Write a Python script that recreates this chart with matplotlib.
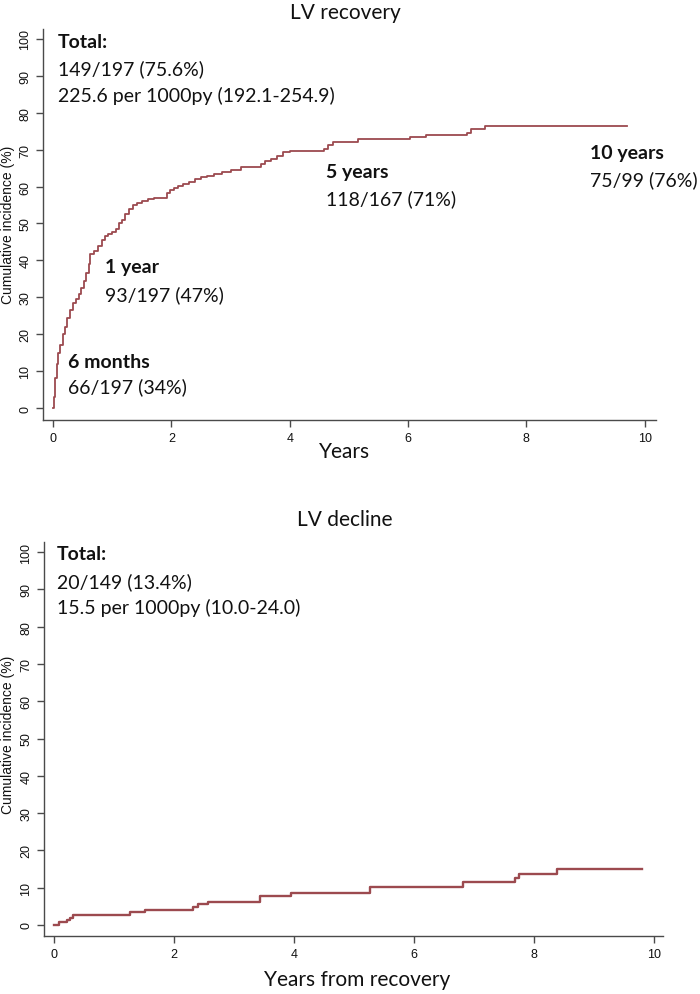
import matplotlib
matplotlib.use("Agg")
import matplotlib.pyplot as plt
import numpy as np

# ---- data ----
rec_time = [0, 0.01, 0.03, 0.06, 0.09, 0.12, 0.16, 0.20, 0.24, 0.28, 0.33, 0.38, 0.43,
            0.48, 0.52, 0.56, 0.60, 0.63, 0.70, 0.76, 0.82, 0.87, 0.93, 1.00, 1.06, 1.12,
            1.17, 1.22, 1.28, 1.35, 1.42, 1.50, 1.60, 1.70, 1.93, 1.98, 2.05, 2.12, 2.20,
            2.30, 2.40, 2.50, 2.60, 2.72, 2.85, 3.00, 3.17, 3.52, 3.58, 3.68, 3.78, 3.88,
            4.00, 4.58, 4.65, 4.73, 5.16, 6.03, 6.31, 6.99, 7.07, 7.30, 9.70]
rec_cum = [0, 3, 8, 12, 15, 17, 20, 22, 24.5, 26.5, 28.5, 29.5, 31,
           32.5, 34.5, 36.5, 39, 41.7, 42.5, 44, 45.5, 46.7, 47.2, 47.7, 48.5, 50,
           51, 52.5, 54, 55, 55.5, 56, 56.5, 57, 58.2, 59, 59.6, 60.2, 60.7,
           61.2, 62, 62.5, 63, 63.5, 64, 64.5, 65.3, 66.2, 67, 67.6, 68.3, 69.3,
           69.7, 70.3, 71.2, 72.2, 72.8, 73.4, 74.1, 74.6, 75.6, 76.5, 76.5]

dec_time = [0, 0.075, 0.21, 0.26, 0.32, 1.26, 1.51, 2.32, 2.39, 2.57, 3.43, 3.95,
            5.27, 6.81, 7.68, 7.75, 8.38, 9.80]
dec_cum = [0, 0.7, 1.35, 2.0, 2.7, 3.4, 4.1, 4.8, 5.5, 6.2, 7.8, 8.6,
           10.3, 11.4, 12.6, 13.8, 15.0, 15.0]

x_ticks = [0, 2, 4, 6, 8, 10]
y_ticks = [0, 10, 20, 30, 40, 50, 60, 70, 80, 90, 100]

titles = ["LV recovery", "LV decline"]
xlabels = ["Years", "Years from recovery"]
ylabel = "Cumulative incidence (%)"

LINE = "#9c4a4f"
AX = "#4a4a4a"
W, H = 700, 995

fig = plt.figure(figsize=(7, 9.95), dpi=100)

def px(x, y):
    return x / W, 1 - y / H

def make_ax(left, top, right, bottom):
    l, t = px(left, top)
    r, b = px(right, bottom)
    ax = fig.add_axes([l, b, r - l, t - b])
    for s in ["top", "right"]:
        ax.spines[s].set_visible(False)
    for s in ["left", "bottom"]:
        ax.spines[s].set_color(AX)
        ax.spines[s].set_linewidth(1.0)
    ax.set_xticks(x_ticks)
    ax.set_yticks(y_ticks)
    ax.tick_params(axis="both", direction="out", length=5, width=1.0, color=AX,
                   labelsize=9, labelcolor="#111111")
    for lab in ax.get_yticklabels():
        lab.set_rotation(90)
        lab.set_va("center")
        lab.set_family("Liberation Sans")
    for lab in ax.get_xticklabels():
        lab.set_family("Liberation Sans")
    return ax

ax1 = make_ax(43, 30, 656, 421)
ax1.plot(rec_time, rec_cum, drawstyle="steps-post", color=LINE, lw=1.3)
ax1.set_xlim(-0.17, 10.19)
ax1.set_ylim(-3.25, 102.7)

ax2 = make_ax(44, 543, 663, 937)
ax2.plot(dec_time, dec_cum, drawstyle="steps-post", color=LINE, lw=1.7)
ax2.set_xlim(-0.17, 10.15)
ax2.set_ylim(-2.95, 102.7)

FONT = ["Lato", "DejaVu Sans"]
FS = 14

def t(x, y, s, bold=False, size=FS, ha="left"):
    fx, fy = px(x, y)
    fig.text(fx, fy, s, ha=ha, va="center", fontsize=size, family=FONT,
             fontweight="bold" if bold else "normal", color="#111111")

# titles / labels
t(345, 13, titles[0], size=15, ha="center")
t(345, 452, xlabels[0], size=15, ha="center")
t(345, 520, titles[1], size=15, ha="center")
t(357, 980, xlabels[1], size=15, ha="center")
for cy in (225, 735):
    fx, fy = px(8, cy)
    fig.text(fx, fy, ylabel, rotation=90, ha="center", va="center", fontsize=10,
             family="Liberation Sans", color="#111111")

# annotations top
t(58, 42, "Total:", bold=True)
t(58, 69, "149/197 (75.6%)")
t(58, 96, "225.6 per 1000py (192.1-254.9)")
t(68, 362, "6 months", bold=True)
t(68, 387, "66/197 (34%)")
t(105, 268, "1 year", bold=True)
t(105, 295, "93/197 (47%)")
t(326, 173, "5 years", bold=True)
t(326, 199, "118/167 (71%)")
t(590, 153, "10 years", bold=True)
t(590, 180, "75/99 (76%)")

# annotations bottom
t(57, 555, "Total:", bold=True)
t(57, 582, "20/149 (13.4%)")
t(57, 608, "15.5 per 1000py (10.0-24.0)")

fig.savefig("out.png", dpi=100)
